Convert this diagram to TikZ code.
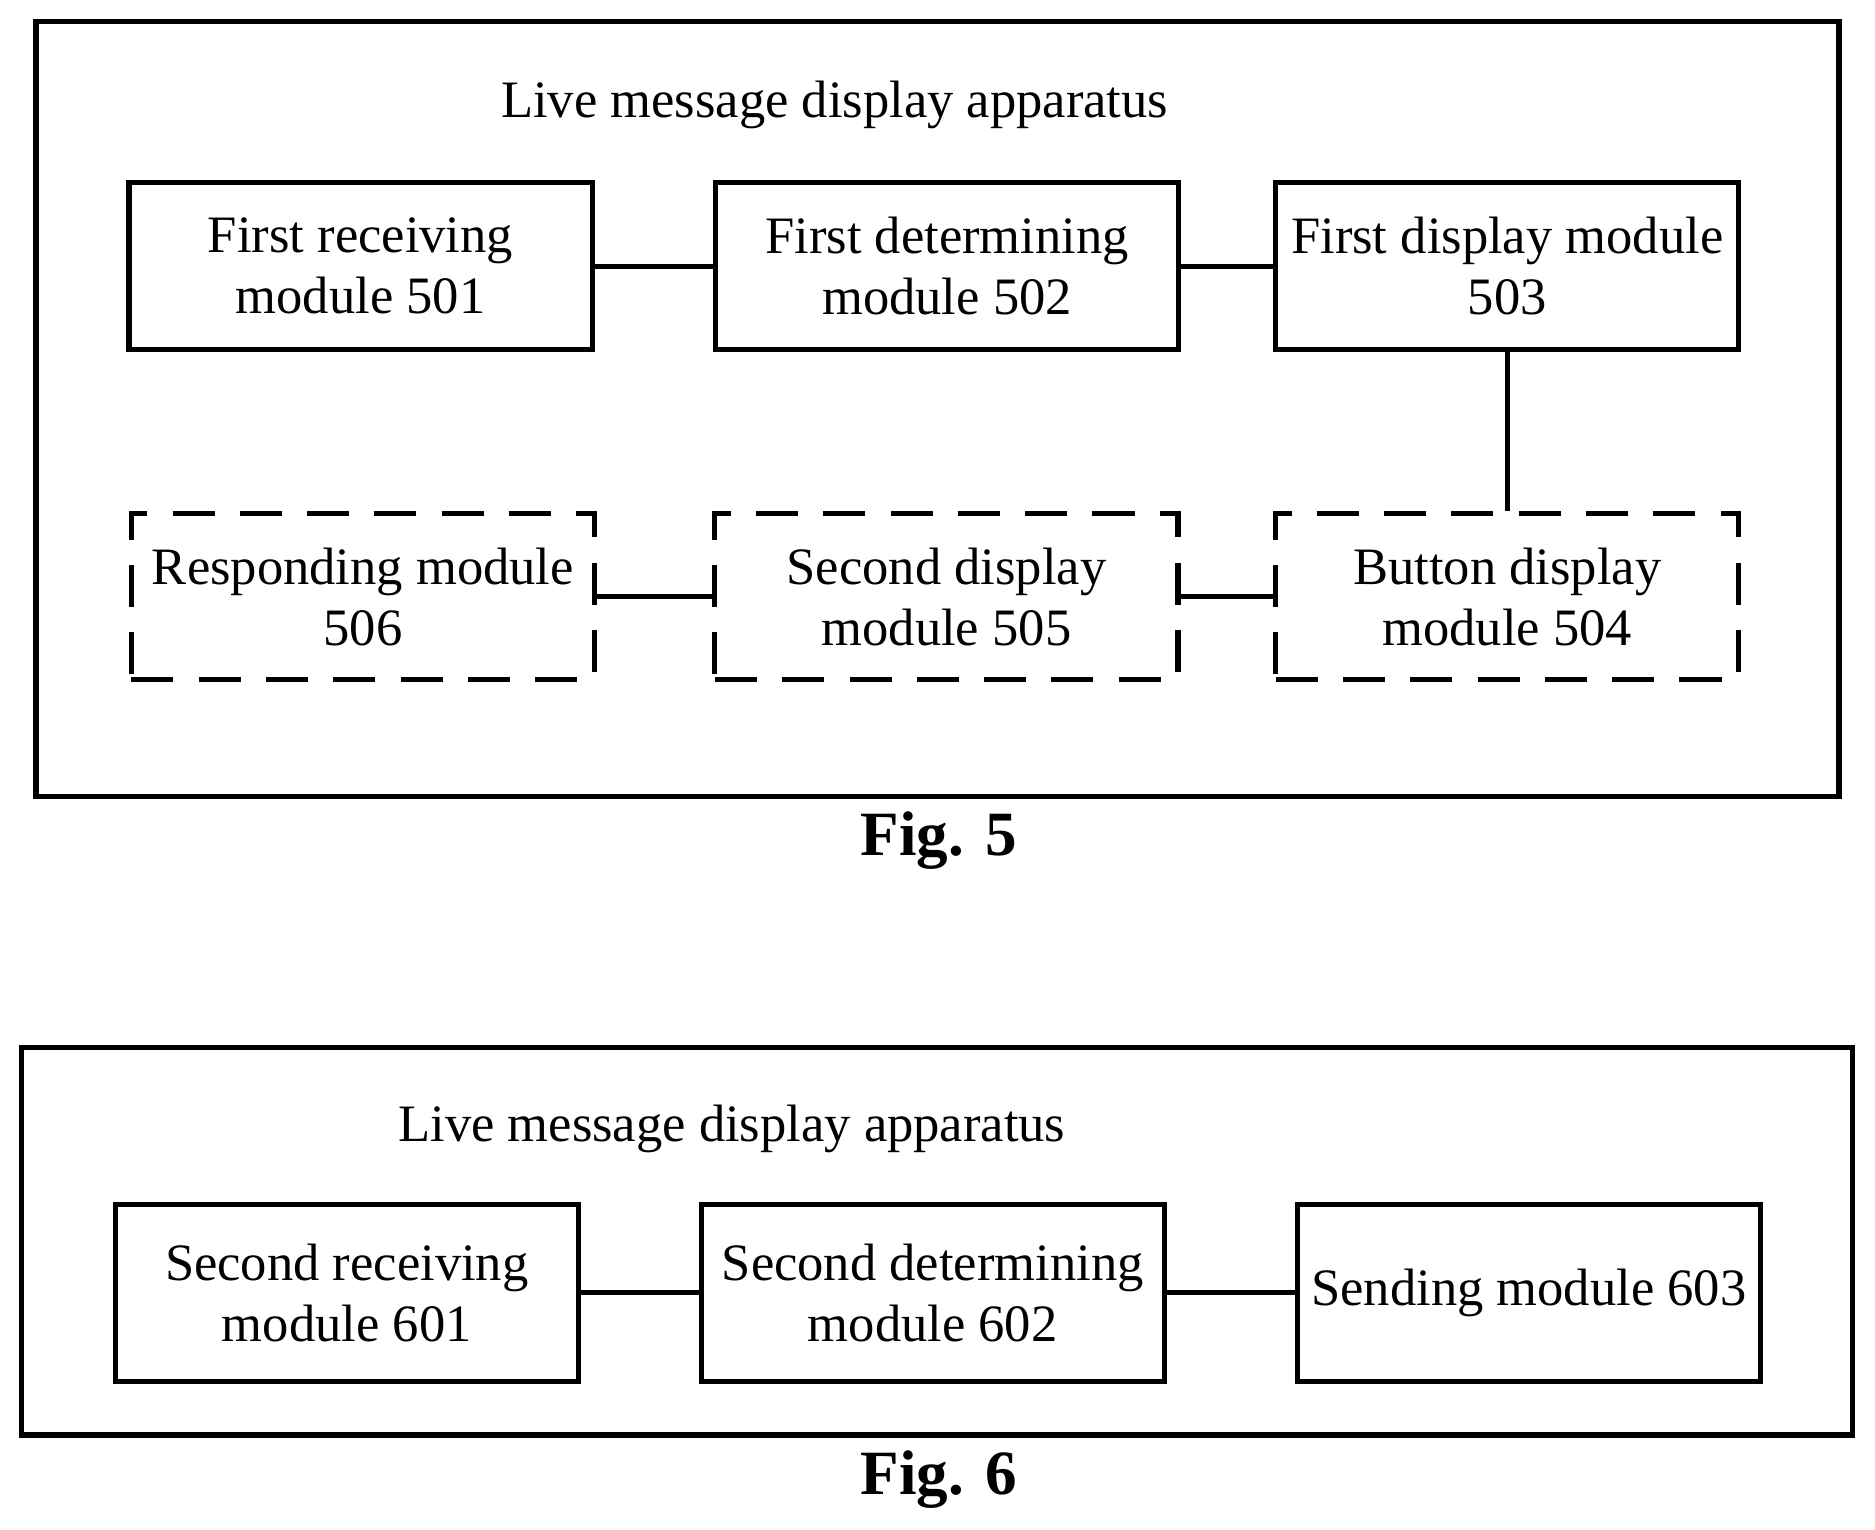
\documentclass[tikz,border=0pt]{standalone}
\usepackage{fontspec}
\setmainfont{Liberation Serif}
\begin{document}
\begin{tikzpicture}[x=0.01cm,y=-0.01cm,
  box/.style={draw,line width=1.2pt,minimum width=3.87cm,minimum height=1.39cm,align=center,font=\fontsize{12.5}{14.5}\selectfont,inner sep=1pt},
  dbox/.style={box,dashed,dash pattern=on 10pt off 6pt},
  frame/.style={draw,line width=1.3pt},
  lbl/.style={font=\fontsize{12.5}{14.5}\selectfont},
  figcap/.style={font=\bfseries\fontsize{15}{17}\selectfont},
  ln/.style={line width=1.2pt}]
\useasboundingbox (0,0) rectangle (1568,1279);
\draw[frame] (30,18) rectangle (1538,666);
\node[lbl] (t1) at (698,88) {Live message display apparatus};
\node[box] (a) at (301.5,222.5) {First receiving\\module 501};
\node[box] (b) at (792,222.5) {First determining\\module 502};
\node[box] (c) at (1260.5,222.5) {First display module\\503};
\node[dbox] (d) at (303.5,499) {Responding module\\506};
\node[dbox] (e) at (791.5,499) {Second display\\module 505};
\node[dbox] (f) at (1260.5,499) {Button display\\module 504};
\draw[ln] (a) -- (b); \draw[ln] (b) -- (c); \draw[ln] (c) -- (f);
\draw[ln] (d) -- (e); \draw[ln] (e) -- (f);
\node[figcap] (f5) at (785,703) {Fig. 5};
\draw[frame] (18,876) rectangle (1549,1200);
\node[lbl] (t2) at (612,944) {Live message display apparatus};
\node[box,minimum height=1.48cm] (g) at (290,1081) {Second receiving\\module 601};
\node[box,minimum height=1.48cm] (h) at (780,1081) {Second determining\\module 602};
\node[box,minimum height=1.48cm] (i) at (1278.5,1081) {Sending module 603};
\draw[ln] (g) -- (h); \draw[ln] (h) -- (i);
\node[figcap] (f6) at (785,1237) {Fig. 6};
\end{tikzpicture}
\end{document}
